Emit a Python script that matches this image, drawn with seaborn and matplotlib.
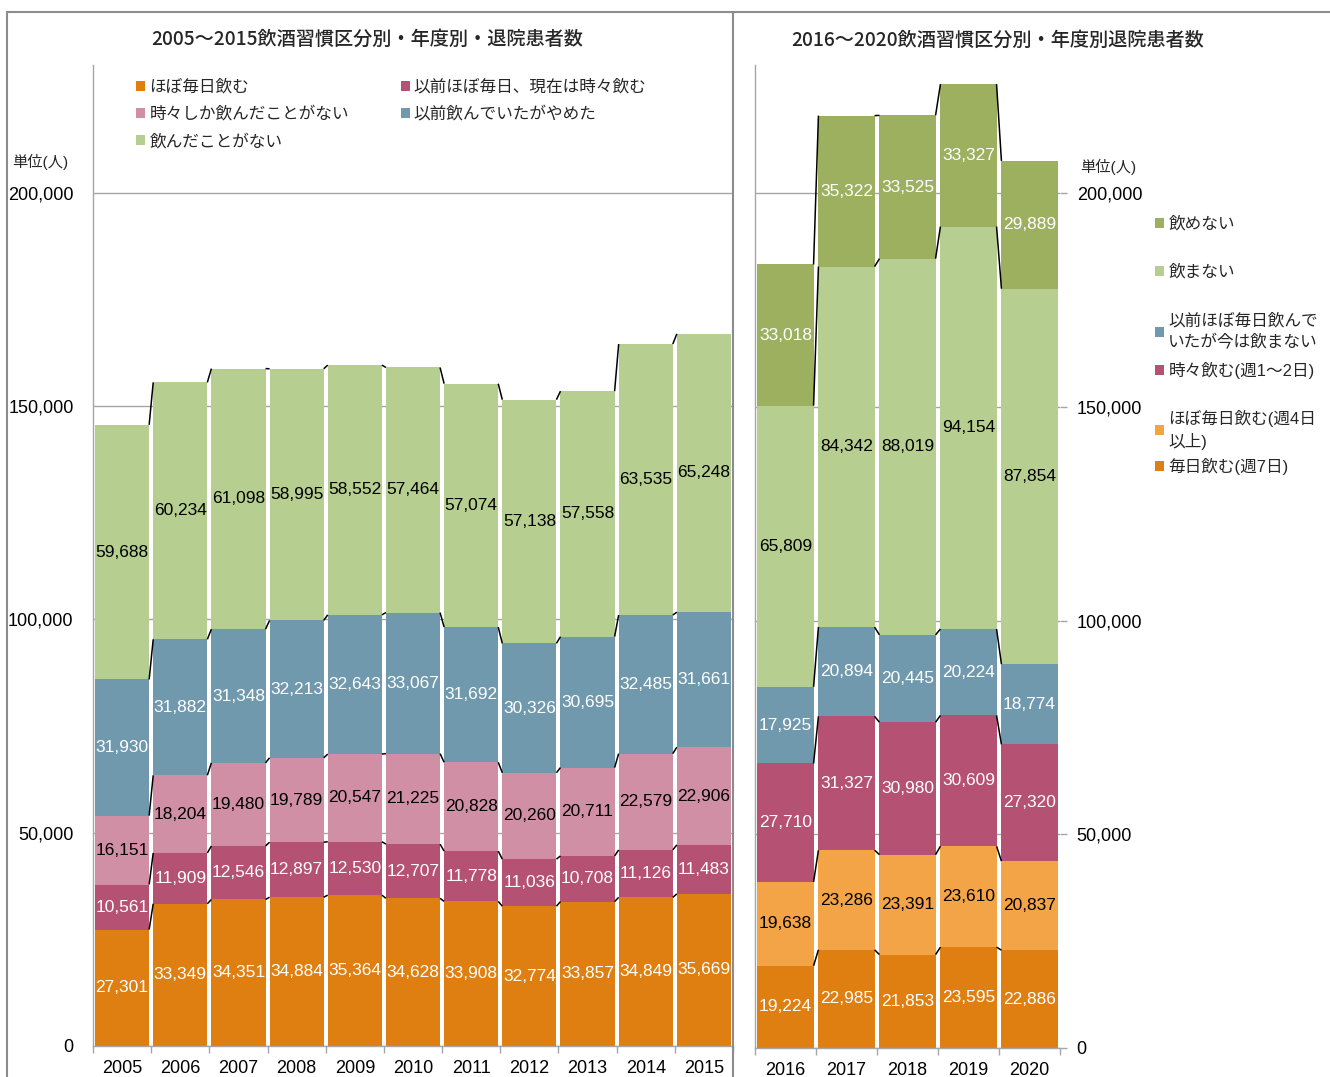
import matplotlib
matplotlib.use("Agg")
import matplotlib.pyplot as plt
import seaborn as sns
import numpy as np
from matplotlib.patches import Patch
from matplotlib.lines import Line2D
from matplotlib.ticker import FuncFormatter, FixedLocator

# ---------------- data: 2005-2015 ----------------
years_a = ["2005", "2006", "2007", "2008", "2009", "2010", "2011", "2012", "2013", "2014", "2015"]
a_almost_daily = [27301, 33349, 34351, 34884, 35364, 34628, 33908, 32774, 33857, 34849, 35669]
a_prev_daily_now_some = [10561, 11909, 12546, 12897, 12530, 12707, 11778, 11036, 10708, 11126, 11483]
a_only_sometimes = [16151, 18204, 19480, 19789, 20547, 21225, 20828, 20260, 20711, 22579, 22906]
a_quit = [31930, 31882, 31348, 32213, 32643, 33067, 31692, 30326, 30695, 32485, 31661]
a_never = [59688, 60234, 61098, 58995, 58552, 57464, 57074, 57138, 57558, 63535, 65248]
names_a = ["ほぼ毎日飲む", "以前ほぼ毎日、現在は時々飲む", "時々しか飲んだことがない",
           "以前飲んでいたがやめた", "飲んだことがない"]

# ---------------- data: 2016-2020 ----------------
years_b = ["2016", "2017", "2018", "2019", "2020"]
b_daily7 = [19224, 22985, 21853, 23595, 22886]
b_daily4 = [19638, 23286, 23391, 23610, 20837]
b_some = [27710, 31327, 30980, 30609, 27320]
b_prev_daily = [17925, 20894, 20445, 20224, 18774]
b_not_drink = [65809, 84342, 88019, 94154, 87854]
b_cannot = [33018, 35322, 33525, 33327, 29889]
names_b = ["毎日飲む(週7日)", "ほぼ毎日飲む(週4日\n以上)", "時々飲む(週1～2日)",
           "以前ほぼ毎日飲んで\nいたが今は飲まない", "飲まない", "飲めない"]

# ---------------- colors ----------------
C_ORANGE = "#DF7F12"
C_LORANGE = "#F2A446"
C_CRIMSON = "#B55274"
C_PINK = "#D18FA6"
C_BLUE = "#7199AD"
C_LGREEN = "#B6CF90"
C_OLIVE = "#9DB060"
GRID = "#A6A6A6"

sns.set_theme(style="white")
plt.rcParams['font.family'] = ['Liberation Sans', 'Noto Sans CJK JP']

W, H = 1330, 1077
fig = plt.figure(figsize=(W / 100, H / 100), dpi=100)
fig.patch.set_facecolor("white")

ax1 = fig.add_axes([93 / W, (H - 1046) / H, 640 / W, 981 / H])
ax2 = fig.add_axes([755 / W, (H - 1048) / H, 305 / W, 983 / H])

YMAX = 230000


def draw_stack(ax, years, series, width):
    bottom = np.zeros(len(years))
    tops = []
    for name, vals, color, tc in series:
        vals = np.array(vals, dtype=float)
        sns.barplot(x=years, y=vals, bottom=bottom.copy(), color=color, width=width,
                    saturation=1, errorbar=None, linewidth=0, ax=ax, zorder=2)
        for i, (b, v) in enumerate(zip(bottom, vals)):
            ax.text(i, b + v / 2, f"{int(v):,}", ha="center", va="center",
                    color=tc, fontsize=12.5, zorder=6)
        bottom = bottom + vals
        tops.append(bottom.copy())
    for level in tops:
        for i in range(len(years) - 1):
            ax.plot([i + width / 2, i + 1 - width / 2], [level[i], level[i + 1]],
                    color="black", lw=1.1, zorder=5, solid_capstyle="butt")


series_a = [
    (names_a[0], a_almost_daily, C_ORANGE, "white"),
    (names_a[1], a_prev_daily_now_some, C_CRIMSON, "white"),
    (names_a[2], a_only_sometimes, C_PINK, "black"),
    (names_a[3], a_quit, C_BLUE, "white"),
    (names_a[4], a_never, C_LGREEN, "black"),
]
series_b = [
    (names_b[0], b_daily7, C_ORANGE, "white"),
    (names_b[1], b_daily4, C_LORANGE, "black"),
    (names_b[2], b_some, C_CRIMSON, "white"),
    (names_b[3], b_prev_daily, C_BLUE, "white"),
    (names_b[4], b_not_drink, C_LGREEN, "black"),
    (names_b[5], b_cannot, C_OLIVE, "white"),
]

draw_stack(ax1, years_a, series_a, 0.93)
draw_stack(ax2, years_b, series_b, 0.92)

fmt = FuncFormatter(lambda v, p: f"{int(v):,}")
for ax, n in ((ax1, len(years_a)), (ax2, len(years_b))):
    ax.set_ylim(0, YMAX)
    ax.set_xlim(-0.5, n - 0.5)
    ax.set_yticks([0, 50000, 100000, 150000, 200000])
    ax.yaxis.set_major_formatter(fmt)
    ax.set_xlabel("")
    ax.set_ylabel("")
    ax.grid(axis="y", color=GRID, lw=1.0, zorder=0)
    ax.grid(axis="x", visible=False)
    ax.set_axisbelow(True)
    ax.xaxis.set_minor_locator(FixedLocator(np.arange(-0.5, n, 1.0)))
    ax.tick_params(axis="x", which="major", length=0, labelsize=13, pad=10, colors="black")
    ax.tick_params(axis="x", which="minor", length=5, width=1, color=GRID, direction="out", bottom=True)
    ax.tick_params(axis="y", which="major", length=5, width=1, color=GRID, labelsize=13,
                   direction="out", colors="black")
    for s in ("top", "right"):
        ax.spines[s].set_visible(False)
    for s in ("left", "bottom"):
        ax.spines[s].set_color(GRID)
        ax.spines[s].set_linewidth(1.0)
    ax.set_facecolor("white")

ax1.tick_params(axis="y", pad=9, labelcolor="black", color=GRID)
ax2.yaxis.tick_right()
ax2.tick_params(axis="y", which="major", length=5, color=GRID, pad=7, labelcolor="black")

# ---------------- titles and unit labels ----------------
fig.text(367 / W, 1 - 39 / H, "2005～2015飲酒習慣区分別・年度別・退院患者数",
         ha="center", va="center", fontsize=13.8, family=["Noto Sans CJK JP"], fontweight="medium")
fig.text(998 / W, 1 - 40 / H, "2016～2020飲酒習慣区分別・年度別退院患者数",
         ha="center", va="center", fontsize=13.8, family=["Noto Sans CJK JP"], fontweight="medium")
fig.text(12 / W, 1 - 162 / H, "単位(人)", ha="left", va="center", fontsize=11)
fig.text(1080 / W, 1 - 167 / H, "単位(人)", ha="left", va="center", fontsize=11)

# ---------------- legends ----------------
col_a = {n: c for n, _, c, _ in series_a}
order_a = [names_a[0], names_a[2], names_a[4], names_a[1], names_a[3]]
handles_a = [Patch(facecolor=col_a[n], edgecolor="none", label=n) for n in order_a]
fig.legend(handles=handles_a, loc="upper left", bbox_to_anchor=(136 / W, 1 - 79 / H),
           ncol=2, frameon=False, fontsize=12, handlelength=0.55, handleheight=0.55,
           handletextpad=0.25, labelspacing=0.68, columnspacing=3.1, borderpad=0,
           borderaxespad=0)

# right legend: one entry per slot, evenly spaced as in the reference
col_b = {n: c for n, _, c, _ in series_b}
order_b = list(reversed(names_b))
slot_tops = [216, 264, 313, 362, 410, 458]
for n, ytop in zip(order_b, slot_tops):
    leg = fig.legend(handles=[Patch(facecolor=col_b[n], edgecolor="none", label=n)],
                     loc="upper left", bbox_to_anchor=(1155 / W, 1 - ytop / H),
                     ncol=1, frameon=False, fontsize=12, handlelength=0.55, handleheight=0.55,
                     handletextpad=0.25, labelspacing=0.2, borderpad=0, borderaxespad=0)
    for t in leg.get_texts():
        t.set_linespacing(1.45)

# ---------------- panel borders ----------------
BORDER = "#8C8C8C"
fig.add_artist(Line2D([7 / W, 7 / W], [0, 1 - 12 / H], color=BORDER, lw=1.5, transform=fig.transFigure))
fig.add_artist(Line2D([7 / W, 1.0], [1 - 12 / H, 1 - 12 / H], color=BORDER, lw=1.5, transform=fig.transFigure))
fig.add_artist(Line2D([733 / W, 733 / W], [0, 1 - 12 / H], color=BORDER, lw=1.5, transform=fig.transFigure))

fig.savefig("out.png", dpi=100, facecolor="white")
